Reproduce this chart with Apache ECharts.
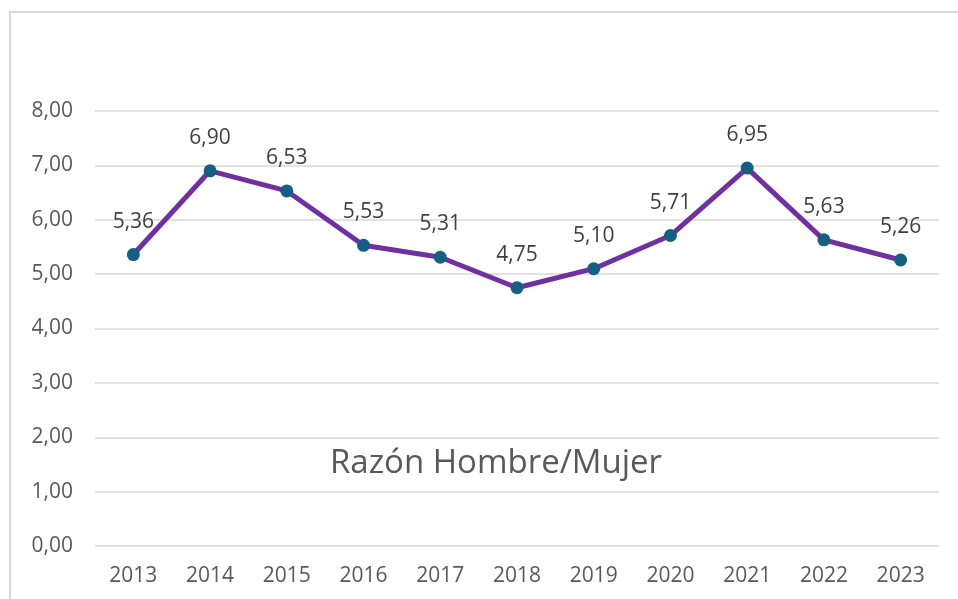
<!DOCTYPE html>
<html>
<head>
<meta charset="utf-8">
<script src="https://cdn.jsdelivr.net/npm/echarts@6/dist/echarts.min.js"></script>
<style>html,body{margin:0;padding:0;background:#fff}#c{width:958px;height:599px}</style>
</head>
<body>
<div id="c"></div>
<script>
var years = ['2013','2014','2015','2016','2017','2018','2019','2020','2021','2022','2023'];
var ratio = [5.36, 6.90, 6.53, 5.53, 5.31, 4.75, 5.10, 5.71, 6.95, 5.63, 5.26];
var titleText = 'Razón Hombre/Mujer';
var yMin = 0, yMax = 8, yStep = 1;

function fmt(v){ return Number(v).toFixed(2).replace('.', ','); }
var FONT = 'Open Sans';
var chart = echarts.init(document.getElementById('c'), null, {renderer:'canvas'});
chart.setOption({
  animation:false,
  backgroundColor:'#ffffff',
  grid:{left:95, right:19, top:111, bottom:53, containLabel:false},
  xAxis:{
    type:'category', data:years, boundaryGap:true,
    axisLine:{show:false}, axisTick:{show:false},
    axisLabel:{color:'#595959', fontSize:21, fontFamily:FONT, margin:20}
  },
  yAxis:{
    type:'value', min:yMin, max:yMax, interval:yStep,
    axisLine:{show:false}, axisTick:{show:false},
    splitLine:{lineStyle:{color:'#d9d9d9', width:1.5}},
    axisLabel:{color:'#595959', fontSize:21, fontFamily:FONT, margin:22, formatter:fmt}
  },
  series:[{
    type:'line', data:ratio,
    lineStyle:{color:'#7030a0', width:5},
    symbol:'circle', symbolSize:13,
    itemStyle:{color:'#156082'},
    label:{show:true, position:'top', distance:16, color:'#404040', fontSize:21, fontFamily:FONT,
      formatter:function(p){return fmt(p.value);}}
  }],
  graphic:[
    {type:'rect', shape:{x:10, y:12, width:1000, height:700}, style:{fill:null, stroke:'#d9d9d9', lineWidth:2}, silent:true},
    {type:'text', x:496, y:464, style:{text:titleText, fill:'#595959', fontSize:33, fontFamily:FONT, textAlign:'center', textVerticalAlign:'middle'}}
  ]
});
</script>
</body>
</html>
